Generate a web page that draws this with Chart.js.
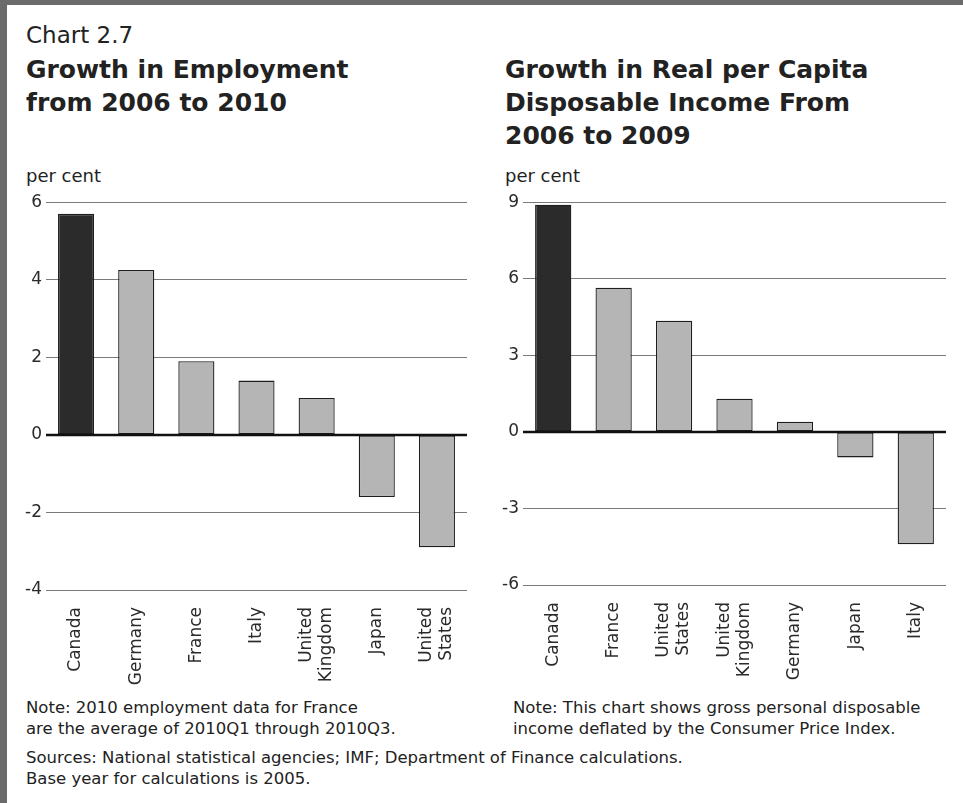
<!DOCTYPE html>
<html>
<head>
<meta charset="utf-8">
<script src="https://cdn.jsdelivr.net/npm/chart.js@4.4.1/dist/chart.umd.min.js"></script>
<style>
  body { margin: 0; background: #fff; }
  #page { position: relative; width: 963px; height: 803px; overflow: hidden; background: #fff; font-family: "DejaVu Sans", sans-serif; color: #222; }
  .frame-top { position: absolute; left: 0; top: 0; width: 963px; height: 5px; background: #6b6b6b; }
  .frame-left { position: absolute; left: 0; top: 0; width: 7px; height: 803px; background: #6b6b6b; }
  .txt { position: absolute; white-space: nowrap; }
  .chartno { font-size: 23px; line-height: 23px; }
  .title { font-size: 25px; line-height: 33px; font-weight: bold; }
  .unit { font-size: 18px; line-height: 18px; }
  .note { font-size: 16.5px; line-height: 21px; }
  canvas { position: absolute; }
</style>
</head>
<body>
<div id="page">
  <div class="frame-top"></div>
  <div class="frame-left"></div>

  <div class="txt chartno" style="left:26px; top:24px;">Chart 2.7</div>
  <div class="txt title" style="left:26px; top:53px;">Growth in Employment<br>from 2006 to 2010</div>
  <div class="txt title" style="left:505px; top:53px;">Growth in Real per Capita<br>Disposable Income From<br>2006 to 2009</div>
  <div class="txt unit" style="left:26px; top:167px;">per cent</div>
  <div class="txt unit" style="left:505px; top:167px;">per cent</div>

  <canvas id="grafico-emprego" width="467" height="502" style="left:0px; top:188px;"></canvas>
  <canvas id="grafico-renda" width="466" height="502" style="left:480px; top:188px;"></canvas>

  <div class="txt note" style="left:26px; top:697px;">Note: 2010 employment data for France<br>are the average of 2010Q1 through 2010Q3.</div>
  <div class="txt note" style="left:513px; top:697px;">Note: This chart shows gross personal disposable<br>income deflated by the Consumer Price Index.</div>
  <div class="txt note" style="left:26px; top:747px;">Sources: National statistical agencies; IMF; Department of Finance calculations.<br>Base year for calculations is 2005.</div>
</div>

<script>
// dados - crescimento do emprego 2006-2010 (%)
const empCategorias = ["Canada", "Germany", "France", "Italy", ["United", "Kingdom"], "Japan", ["United", "States"]];
const empValores = [5.7, 4.25, 1.9, 1.4, 0.95, -1.6, -2.9];
const empTicks = [-4, -2, 0, 2, 4, 6];

// dados - renda disponivel real per capita 2006-2009 (%)
const rendaCategorias = ["Canada", "France", ["United", "States"], ["United", "Kingdom"], "Germany", "Japan", "Italy"];
const rendaValores = [8.9, 5.65, 4.35, 1.3, 0.4, -1.0, -4.4];
const rendaTicks = [-6, -3, 0, 3, 6, 9];

Chart.defaults.font.family = "'DejaVu Sans', sans-serif";
Chart.defaults.color = "#2a2a2a";

// linha do zero por cima das barras
const linhaZero = {
  id: "linhaZero",
  afterDatasetsDraw(chart) {
    const y = chart.scales.y.getPixelForValue(0);
    const area = chart.chartArea;
    const ctx = chart.ctx;
    ctx.save();
    ctx.strokeStyle = "#111";
    ctx.lineWidth = 2.5;
    ctx.beginPath();
    ctx.moveTo(area.left, y);
    ctx.lineTo(area.right, y);
    ctx.stroke();
    ctx.restore();
  }
};

// rotulos verticais do eixo x, com as linhas centradas na barra
const rotulosX = {
  id: "rotulosX",
  afterDraw(chart) {
    const escala = chart.scales.x;
    const ctx = chart.ctx;
    const topo = chart.chartArea.bottom + 17;
    const alturaLinha = 20;
    ctx.save();
    ctx.font = "17px 'DejaVu Sans'";
    ctx.fillStyle = "#2a2a2a";
    ctx.textAlign = "right";
    ctx.textBaseline = "middle";
    chart.data.labels.forEach((rotulo, i) => {
      const linhas = Array.isArray(rotulo) ? rotulo : [rotulo];
      const x0 = escala.getPixelForTick(i) - (linhas.length - 1) * alturaLinha / 2;
      linhas.forEach((linha, j) => {
        ctx.save();
        ctx.translate(x0 + j * alturaLinha, topo);
        ctx.rotate(-Math.PI / 2);
        ctx.fillText(linha, 0, 0);
        ctx.restore();
      });
    });
    ctx.restore();
  }
};

function criarGrafico(id, categorias, valores, ticks, larguraEixoY, alturaArea) {
  const ctx = document.getElementById(id).getContext("2d");
  return new Chart(ctx, {
    type: "bar",
    data: {
      labels: categorias,
      datasets: [{
        data: valores,
        backgroundColor: valores.map((v, i) => i === 0 ? "#2b2b2b" : "#b5b5b5"),
        borderColor: "#1e1e1e",
        borderWidth: 1.3,
        borderSkipped: false,
        barPercentage: 0.6,
        categoryPercentage: 1.0
      }]
    },
    options: {
      responsive: false,
      animation: false,
      devicePixelRatio: 1,
      layout: { padding: { top: 12, left: 0, right: 0, bottom: 0 } },
      plugins: { legend: { display: false }, tooltip: { enabled: false } },
      scales: {
        x: {
          offset: true,
          grid: { display: false, drawTicks: false },
          border: { display: false },
          ticks: { display: false },
          afterFit: (scale) => {
            scale.height = 502 - 12 - alturaArea;
            scale.paddingLeft = 0;
            scale.paddingRight = 0;
          }
        },
        y: {
          min: ticks[0],
          max: ticks[ticks.length - 1],
          afterBuildTicks: (scale) => { scale.ticks = ticks.map(v => ({ value: v })); },
          grid: {
            drawTicks: false,
            color: "#7a7a7a",
            lineWidth: 1
          },
          border: { display: false },
          ticks: {
            padding: 4,
            font: { size: 17 },
            color: "#2a2a2a"
          },
          afterFit: (scale) => { scale.width = larguraEixoY; }
        }
      }
    },
    plugins: [linhaZero, rotulosX]
  });
}

criarGrafico("grafico-emprego", empCategorias, empValores, empTicks, 46, 390);
criarGrafico("grafico-renda", rendaCategorias, rendaValores, rendaTicks, 43, 385);
</script>
</body>
</html>
